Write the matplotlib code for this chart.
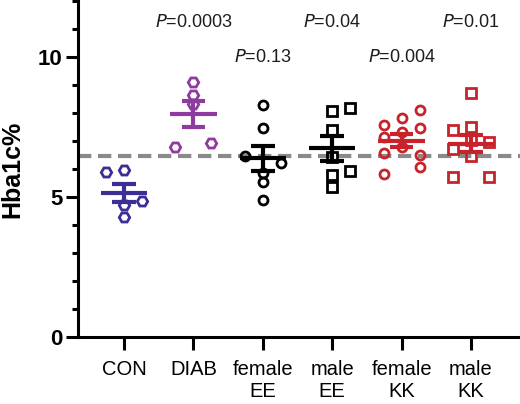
import numpy as np
import matplotlib
matplotlib.use("Agg")
import matplotlib.pyplot as plt
from matplotlib.ticker import MultipleLocator

plt.rcParams['font.family'] = ['Liberation Sans', 'DejaVu Sans']

# data
groups = ['CON', 'DIAB', 'female\nEE', 'male\nEE', 'female\nKK', 'male\nKK']
con = [5.88, 5.96, 4.86, 4.71, 4.30]
diab = [9.12, 8.64, 8.34, 6.80, 6.92]
female_ee = [8.30, 7.45, 6.45, 6.20, 5.85, 5.55, 4.90]
male_ee = [8.07, 8.17, 7.39, 6.43, 5.93, 5.79, 5.37]
female_kk = [7.57, 7.81, 8.11, 7.48, 7.15, 7.33, 6.80, 6.58, 6.50, 6.06, 5.81]
male_kk = [8.70, 7.39, 7.51, 6.98, 6.70, 7.04, 6.45, 5.70, 5.73]
p_labels = ['', '0.0003', '0.13', '0.04', '0.004', '0.01']
ref_level = 6.45

values = [con, diab, female_ee, male_ee, female_kk, male_kk]

# layout: swarm columns (-1 left, 0 centre, 1 right) and styles
cols = [[-1, 0, 1, 0, 0],
        [0, 0, 0, -1, 1],
        [0, 0, -1, 1, 0, 0, 0],
        [0, 1, 0, 0, 1, 0, 0],
        [-1, 0, 1, 1, -1, 0, 0, -1, 1, 1, -1],
        [0, -1, 0, 1, -1, 0, 0, -1, 1]]
colors = ['#3b2e96', '#8e3a9e', 'black', 'black', '#c8232b', '#c8232b']
markers = ['H', 'H', 'o', 's', 'o', 's']
msizes = [7.5, 7.5, 6.5, 6.5, 6.5, 6.5]
p_y = [0, 11.25, 10.0, 11.25, 10.0, 11.25]

fig = plt.figure(figsize=(5.2, 4.04), dpi=100)
ax = fig.add_axes([78/520, 67/404, 442/520, 337/404])

ax.axhline(ref_level, color='#8a8a8a', lw=3, ls=(0, (3.2, 1.6)), zorder=1)

for i, vals in enumerate(values):
    vals = np.array(vals)
    xs = i + 0.26 * np.array(cols[i])
    ax.plot(xs, vals, ls='none', marker=markers[i], ms=msizes[i], mew=2.0,
            mfc='none', mec=colors[i], zorder=3)
    m = vals.mean()
    sem = vals.std(ddof=1) / np.sqrt(len(vals))
    ax.hlines(m, i - 0.335, i + 0.335, color=colors[i], lw=3, zorder=4)
    ax.vlines(i, m - sem, m + sem, color=colors[i], lw=3, zorder=4)
    ax.hlines([m - sem, m + sem], i - 0.17, i + 0.17, color=colors[i], lw=3, zorder=4)
    if p_labels[i]:
        ax.text(i, p_y[i], r'$\it{P}$' + '=' + p_labels[i], ha='center', va='center',
                fontsize=13, color='#1e1e1e')

ax.set_xlim(-0.663, 5.706)
ax.set_ylim(0, 12.04)
ax.set_xticks(range(len(groups)))
ax.set_xticklabels(groups, fontsize=14.5, linespacing=1.2)
ax.yaxis.set_major_locator(MultipleLocator(5))
ax.yaxis.set_minor_locator(MultipleLocator(1))
for lab in ax.get_yticklabels():
    lab.set_fontweight('bold')
    lab.set_fontsize(16)

for s in ['top', 'right']:
    ax.spines[s].set_visible(False)
for s in ['left', 'bottom']:
    ax.spines[s].set_linewidth(2.2)

ax.tick_params(axis='y', which='major', length=9, width=2.2, pad=2)
ax.tick_params(axis='y', which='minor', length=4.5, width=2.2)
ax.tick_params(axis='x', which='major', length=9.5, width=2.2, pad=7)

fig.text(12.5/520, 1 - 169/404, 'Hba1c%', rotation=90, ha='center', va='center',
         fontsize=18, fontweight='bold')

fig.savefig('out.png', dpi=100)
